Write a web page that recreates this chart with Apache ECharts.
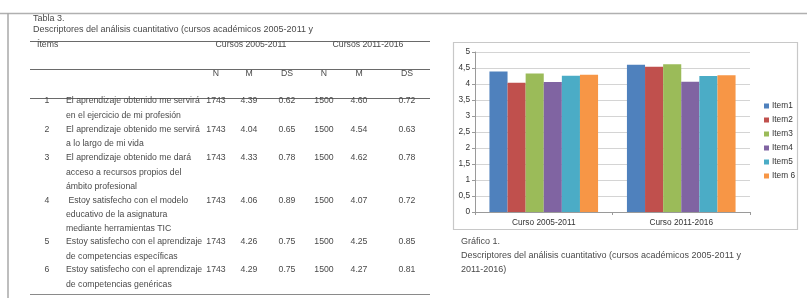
<!DOCTYPE html>
<html><head><meta charset="utf-8">
<script src="https://cdn.jsdelivr.net/npm/echarts@6/dist/echarts.min.js"></script>
<style>html,body{margin:0;padding:0;background:#fff}#c{width:807px;height:298px}</style>
</head><body><div id="c"></div>
<script>
// ---- Data ----
var categories = ['Curso 2005-2011', 'Curso 2011-2016'];
var itemNames = ['Item1', 'Item2', 'Item3', 'Item4', 'Item5', 'Item 6'];
var itemNumbers = ['1', '2', '3', '4', '5', '6'];
var itemTexts = [
  ['El aprendizaje obtenido me servirá', 'en el ejercicio de mi profesión'],
  ['El aprendizaje obtenido me servirá', 'a lo largo de mi vida'],
  ['El aprendizaje obtenido me dará', 'acceso a recursos propios del', 'ámbito profesional'],
  [' Estoy satisfecho con el modelo', 'educativo de la asignatura', 'mediante herramientas TIC'],
  ['Estoy satisfecho con el aprendizaje', 'de competencias específicas'],
  ['Estoy satisfecho con el aprendizaje', 'de competencias genéricas']
];
var n1 = ['1743', '1743', '1743', '1743', '1743', '1743'];
var m1 = [4.39, 4.04, 4.33, 4.06, 4.26, 4.29];
var ds1 = ['0.62', '0.65', '0.78', '0.89', '0.75', '0.75'];
var n2 = ['1500', '1500', '1500', '1500', '1500', '1500'];
var m2 = [4.60, 4.54, 4.62, 4.07, 4.25, 4.27];
var ds2 = ['0.72', '0.63', '0.78', '0.72', '0.85', '0.81'];
var colHeaders = ['N', 'M', 'DS', 'N', 'M', 'DS'];
var groupHeaders = ['Cursos 2005-2011', 'Cursos 2011-2016'];
var yTicks = [0, 0.5, 1, 1.5, 2, 2.5, 3, 3.5, 4, 4.5, 5];
var tableTitle = 'Tabla 3.';
var tableSubtitle = 'Descriptores del análisis cuantitativo (cursos académicos 2005-2011 y';
var chartCaption = ['Gráfico 1.', 'Descriptores del análisis cuantitativo (cursos académicos 2005-2011 y', '2011-2016)'];
var colors = ['#4F81BD', '#C0504D', '#9BBB59', '#8064A2', '#4BACC6', '#F79646'];

// ---- Build ----
var FONT = 'Liberation Sans, Arial, sans-serif';
var TXT = '#4a4a4a';
var g = [];
function txt(s, x, y, opt) {
  opt = opt || {};
  g.push({type: 'text', x: x, y: y, silent: true, style: {
    text: s, fill: opt.fill || TXT, font: (opt.size || 8.7) + 'px ' + FONT,
    textAlign: opt.align || 'left', textVerticalAlign: 'middle',
    align: opt.align || 'left', verticalAlign: 'middle'}});
}
function line(x1, y1, x2, y2, c, w) {
  g.push({type: 'line', silent: true, shape: {x1: x1, y1: y1, x2: x2, y2: y2}, style: {stroke: c, lineWidth: w || 1}});
}
// outer frame
line(0, 13.5, 807, 13.5, '#b0b0b0', 1.5);
line(8, 13, 8, 298, '#a8a8a8', 1.5);
// table titles
txt(tableTitle, 33, 19, {size: 9});
txt(tableSubtitle, 33, 30, {size: 9});
// table rules
line(30, 41.5, 430, 41.5, '#6a6a6a', 1.2);
line(30, 69.5, 430, 69.5, '#6a6a6a', 1.2);
line(30, 98.5, 430, 98.5, '#6a6a6a', 1.2);
line(30, 294.5, 430, 294.5, '#8a8a8a', 1.2);
txt('Ítems', 37, 45);
txt(groupHeaders[0], 251, 45, {align: 'center'});
txt(groupHeaders[1], 368, 45, {align: 'center'});
var colX = [216, 249, 287, 324, 359, 407];
colHeaders.forEach(function (h, i) { txt(h, colX[i], 74, {align: 'center'}); });
var rowY = [101, 129.5, 158, 200.5, 242, 270];
var LH = 14.2;
itemNumbers.forEach(function (num, r) {
  var y = rowY[r];
  txt(num, 47, y, {align: 'center'});
  itemTexts[r].forEach(function (t, k) { txt(t, 66, y + k * LH); });
  var vals = [n1[r], m1[r].toFixed(2), ds1[r], n2[r], m2[r].toFixed(2), ds2[r]];
  vals.forEach(function (v, i) { txt(v, colX[i], y, {align: 'center'}); });
});
// chart box
g.push({type: 'rect', silent: true, shape: {x: 453.5, y: 42.5, width: 344, height: 187}, style: {fill: 'none', stroke: '#c8c8c8', lineWidth: 1.2}});
// caption
txt(chartCaption[0], 461, 242, {size: 9});
txt(chartCaption[1], 461, 256, {size: 9});
txt(chartCaption[2], 461, 270, {size: 9});

var series = itemNames.map(function (name, i) {
  return {name: name, type: 'bar', data: [m1[i], m2[i]], barGap: '0%', barCategoryGap: '21%',
    itemStyle: {color: colors[i]}, emphasis: {disabled: true}};
});

var chart = echarts.init(document.getElementById('c'), null, {renderer: 'canvas'});
chart.setOption({
  animation: false,
  textStyle: {fontFamily: FONT},
  grid: {left: 475, top: 52, width: 275, height: 160, containLabel: false},
  xAxis: {type: 'category', data: categories,
    axisLine: {lineStyle: {color: '#9a9a9a'}},
    axisTick: {show: true, alignWithLabel: false, length: 3, lineStyle: {color: '#9a9a9a'}},
    axisLabel: {color: '#333', fontSize: 8.3, margin: 7, fontFamily: FONT}},
  yAxis: {type: 'value', min: yTicks[0], max: yTicks[yTicks.length - 1], interval: 0.5,
    axisLine: {show: true, lineStyle: {color: '#9a9a9a'}},
    axisTick: {show: true, length: 3, lineStyle: {color: '#9a9a9a'}},
    splitLine: {lineStyle: {color: '#d4d4d4'}},
    axisLabel: {color: '#333', fontSize: 8.3, margin: 5, fontFamily: FONT,
      formatter: function (v) { return String(v).replace('.', ','); }}},
  legend: {orient: 'vertical', left: 759, top: 96, itemWidth: 5, itemHeight: 5, itemGap: 4,
    icon: 'rect', data: itemNames,
    textStyle: {color: '#333', fontSize: 8.3, fontFamily: FONT, lineHeight: 10, padding: [0, 0, 0, -2]}},
  series: series,
  graphic: g
});
</script></body></html>
